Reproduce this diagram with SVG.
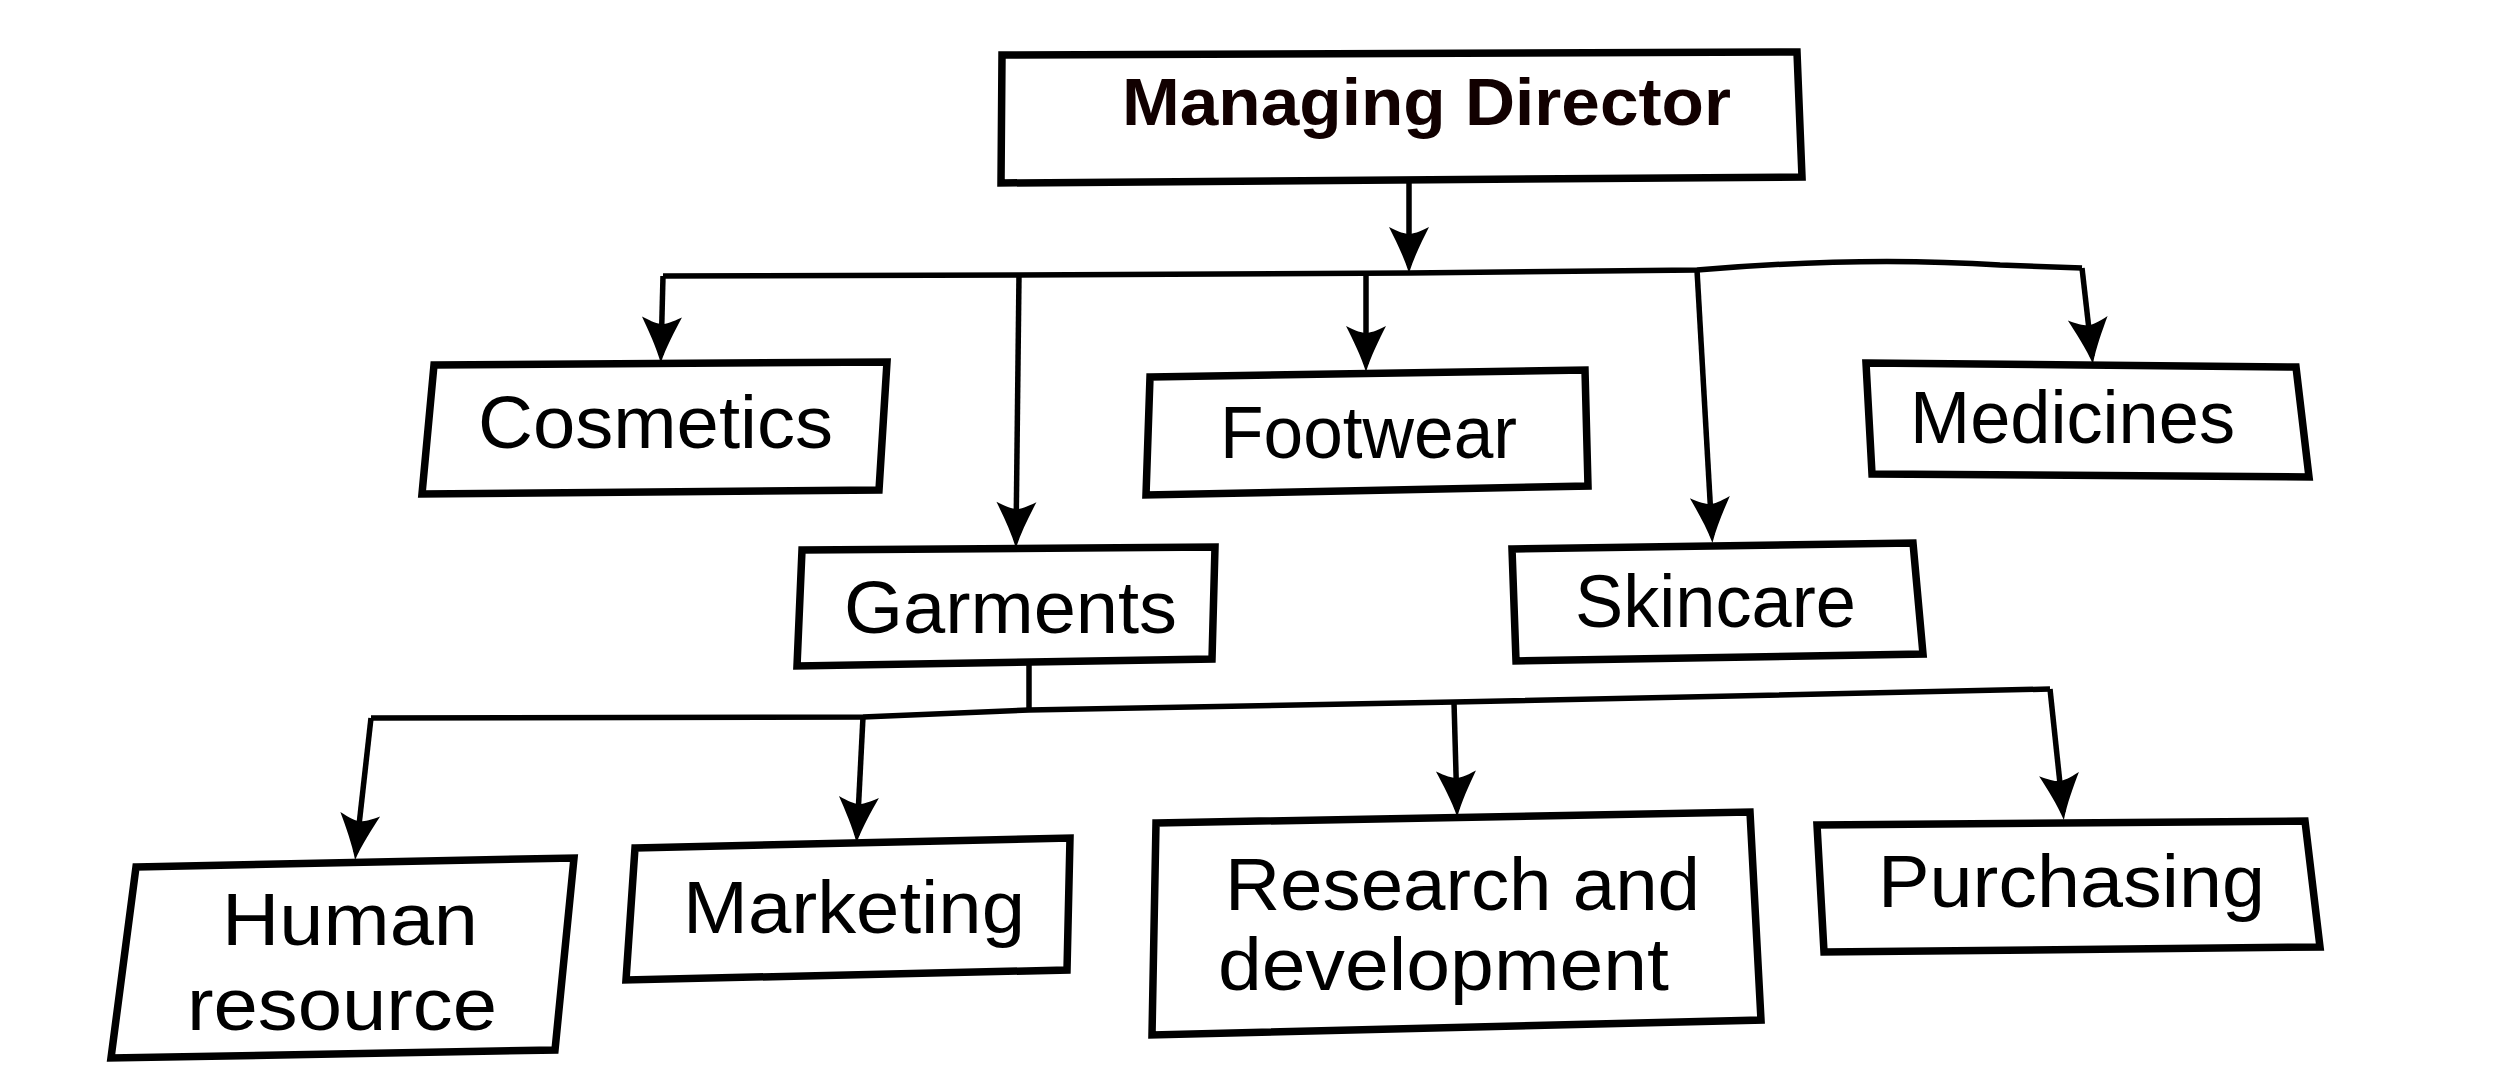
<svg xmlns="http://www.w3.org/2000/svg" width="2505" height="1065" viewBox="0 0 2505 1065">
<style>
.box{fill:#fff;stroke:#000;stroke-width:7.5;stroke-linejoin:miter}
.conn{fill:none;stroke:#000;stroke-width:5.5;stroke-linejoin:round}
.t{font-family:"Liberation Sans",Arial,Helvetica,sans-serif;font-size:74px;fill:#000}
.tb{font-family:"Liberation Sans",Arial,Helvetica,sans-serif;font-size:67px;font-weight:bold;fill:#100}
</style>
<defs>
<marker id="ah" markerUnits="userSpaceOnUse" viewBox="-48 -22 52 44" markerWidth="52" markerHeight="44" refX="-6" refY="0" orient="auto">
<path d="M2,0 C-14,-5 -30,-13 -44,-20 C-39,-10 -37,-4 -37,0 C-37,4 -39,10 -44,20 C-30,13 -14,5 2,0 Z" fill="#000"/>
</marker>
</defs>
<rect width="2505" height="1065" fill="#fff"/>
<g id="connectors">
<line class="conn" x1="1409" y1="183" x2="1409" y2="265" marker-end="url(#ah)"/>
<path class="conn" d="M663,276 L1019,275 L1409,273 L1697,270 Q1860,256 2000,265 L2082,268"/>
<line class="conn" x1="663" y1="276" x2="661" y2="355" marker-end="url(#ah)"/>
<line class="conn" x1="1019" y1="275" x2="1016" y2="540" marker-end="url(#ah)"/>
<line class="conn" x1="1366" y1="274" x2="1366" y2="364" marker-end="url(#ah)"/>
<line class="conn" x1="1697" y1="270" x2="1712" y2="535" marker-end="url(#ah)"/>
<line class="conn" x1="2082" y1="268" x2="2092" y2="356" marker-end="url(#ah)"/>
<line class="conn" x1="1029" y1="660" x2="1029" y2="710"/>
<polyline class="conn" points="371,718 863,717 1029,710 1454,702 2050,689"/>
<line class="conn" x1="371" y1="718" x2="356" y2="852" marker-end="url(#ah)"/>
<line class="conn" x1="863" y1="717" x2="857" y2="835" marker-end="url(#ah)"/>
<line class="conn" x1="1454" y1="702" x2="1457" y2="809" marker-end="url(#ah)"/>
<line class="conn" x1="2050" y1="689" x2="2063" y2="812" marker-end="url(#ah)"/>
</g>
<g id="managing-director">
<polygon class="box" points="1002,55 1797,52 1802,177 1001,183"/>
<text class="tb" x="1122" y="125" textLength="609" lengthAdjust="spacingAndGlyphs">Managing Director</text>
</g>
<g id="cosmetics">
<polygon class="box" points="434,365 887,362 879,490 422,494"/>
<text class="t" x="478" y="448" textLength="355" lengthAdjust="spacingAndGlyphs">Cosmetics</text>
</g>
<g id="footwear">
<polygon class="box" points="1150,377 1585,370 1588,486 1146,495"/>
<text class="t" x="1220" y="458" textLength="297" lengthAdjust="spacingAndGlyphs">Footwear</text>
</g>
<g id="medicines">
<polygon class="box" points="1866,363 2296,367 2309,477 1872,474"/>
<text class="t" x="1910" y="443" textLength="325" lengthAdjust="spacingAndGlyphs">Medicines</text>
</g>
<g id="garments">
<polygon class="box" points="802,550 1215,547 1212,659 797,666"/>
<text class="t" x="844" y="633" textLength="333" lengthAdjust="spacingAndGlyphs">Garments</text>
</g>
<g id="skincare">
<polygon class="box" points="1512,549 1913,543 1923,654 1516,661"/>
<text class="t" x="1575" y="627" textLength="281" lengthAdjust="spacingAndGlyphs">Skincare</text>
</g>
<g id="human-resource">
<polygon class="box" points="136,867 574,858 555,1050 111,1058"/>
<text class="t" x="222" y="945" font-size="70" textLength="256" lengthAdjust="spacingAndGlyphs">Human</text>
<text class="t" x="187" y="1030" font-size="70" textLength="310" lengthAdjust="spacingAndGlyphs">resource</text>
</g>
<g id="marketing">
<polygon class="box" points="635,848 1070,838 1067,970 626,980"/>
<text class="t" x="683" y="933" textLength="342" lengthAdjust="spacingAndGlyphs">Marketing</text>
</g>
<g id="research-and-development">
<polygon class="box" points="1156,823 1750,812 1761,1020 1152,1035"/>
<text class="t" x="1225" y="910" textLength="475" lengthAdjust="spacingAndGlyphs">Research and</text>
<text class="t" x="1218" y="990" textLength="451" lengthAdjust="spacingAndGlyphs">development</text>
</g>
<g id="purchasing">
<polygon class="box" points="1817,825 2305,821 2320,947 1824,952"/>
<text class="t" x="1878" y="907" textLength="387" lengthAdjust="spacingAndGlyphs">Purchasing</text>
</g>
</svg>
